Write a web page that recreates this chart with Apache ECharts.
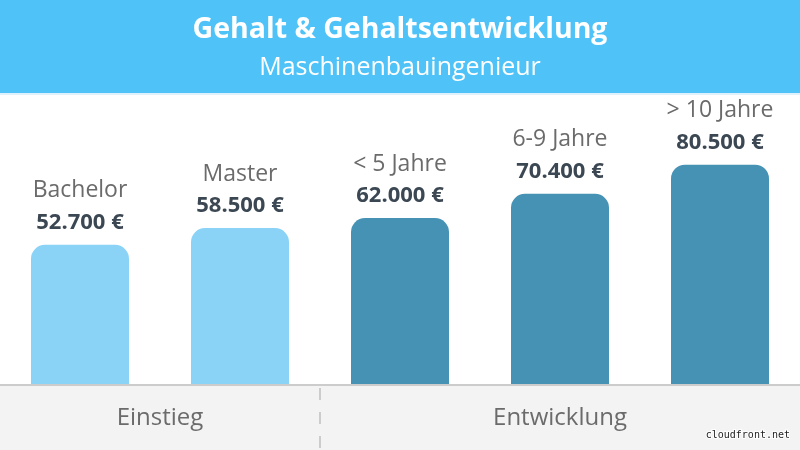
<!DOCTYPE html>
<html><head><meta charset="utf-8">
<script src="https://cdn.jsdelivr.net/npm/echarts@6/dist/echarts.min.js"></script>
<style>html,body{margin:0;padding:0;background:#fff}#c{width:800px;height:450px}</style>
</head><body><div id="c"></div>
<script>
const titleText = 'Gehalt & Gehaltsentwicklung';
const subtitleText = 'Maschinenbauingenieur';
const categories = ['Bachelor', 'Master', '< 5 Jahre', '6-9 Jahre', '> 10 Jahre'];
const salaries = [52700, 58500, 62000, 70400, 80500];
const groups = ['Einstieg', 'Einstieg', 'Entwicklung', 'Entwicklung', 'Entwicklung'];
const groupNames = ['Einstieg', 'Entwicklung'];

const colorFor = { 'Einstieg': '#8ad3f7', 'Entwicklung': '#4592b4' };
const fmt = v => v.toLocaleString('de-DE') + ' €';
const FONT = '"Open Sans", "Noto Sans", sans-serif';

const chart = echarts.init(document.getElementById('c'), null, { renderer: 'canvas' });

const groupRanges = groupNames.map(g => {
  const idx = groups.map((x, i) => x === g ? i : -1).filter(i => i >= 0);
  return { name: g, from: idx[0], to: idx[idx.length - 1] };
});
const W = 800, catW = W / categories.length;

const graphics = [
  { type: 'rect', shape: { x: 0, y: 0, width: 800, height: 93 }, style: { fill: '#4fc3f7' }, z: 0 },
  { type: 'rect', shape: { x: 0, y: 93, width: 800, height: 2 }, style: { fill: '#dff1fb' }, z: 0 },
  { type: 'text', x: 400, y: 30, style: { text: titleText, fill: '#fff', font: 'bold 28.5px ' + FONT, align: 'center', verticalAlign: 'middle' }, z: 10 },
  { type: 'text', x: 400, y: 68, style: { text: subtitleText, fill: '#fff', font: '25px ' + FONT, align: 'center', verticalAlign: 'middle' }, z: 10 },
  { type: 'rect', shape: { x: 0, y: 386, width: 800, height: 64 }, style: { fill: '#f3f3f3' }, z: 0 },
  { type: 'rect', shape: { x: 0, y: 384, width: 800, height: 2 }, style: { fill: '#cccccc' }, z: 5 },
  { type: 'line', shape: { x1: 320, y1: 388, x2: 320, y2: 450 }, style: { stroke: '#cccccc', lineWidth: 2, lineDash: [12, 12] }, z: 5 },
  { type: 'text', x: 790, y: 435, style: { text: 'cloudfront.net', fill: '#222', font: '10px "DejaVu Sans Mono", monospace', align: 'right', verticalAlign: 'middle', stroke: '#fff', lineWidth: 2 }, z: 20 }
];
groupRanges.forEach(g => {
  const cx = ((g.from + g.to + 1) / 2) * catW;
  graphics.push({ type: 'text', x: cx, y: 418, style: { text: g.name, fill: '#6b6b6b', font: '24px ' + FONT, align: 'center', verticalAlign: 'middle' }, z: 10 });
});

chart.setOption({
  animation: false,
  backgroundColor: '#fff',
  grid: { left: 0, right: 0, top: 100, bottom: 65, containLabel: false },
  xAxis: { type: 'category', data: categories, axisLine: { show: false }, axisTick: { show: false }, axisLabel: { show: false } },
  yAxis: { type: 'value', min: 4000, max: 103000, show: false, splitLine: { show: false } },
  graphic: graphics,
  series: [{
    type: 'bar',
    barWidth: 98,
    data: salaries.map((v, i) => ({
      value: v,
      itemStyle: { color: colorFor[groups[i]], borderRadius: [14, 14, 0, 0] }
    })),
    label: {
      show: true,
      position: 'top',
      distance: 8,
      formatter: p => '{a|' + categories[p.dataIndex] + '}\n{b|' + fmt(salaries[p.dataIndex]) + '}',
      rich: {
        a: { fontFamily: FONT, fontSize: 23, color: '#6b6b6b', lineHeight: 36 },
        b: { fontFamily: FONT, fontSize: 22, fontWeight: 'bold', color: '#3b4752', lineHeight: 28 }
      }
    }
  }]
});
</script></body></html>
